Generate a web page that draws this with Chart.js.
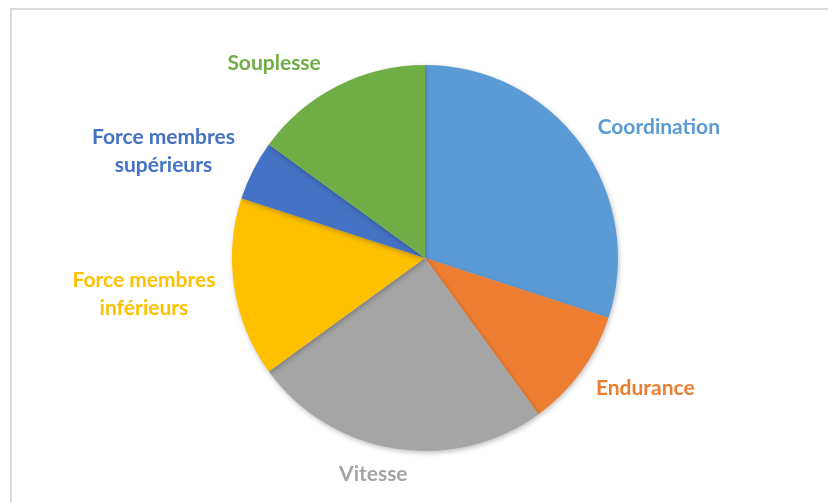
<!DOCTYPE html>
<html lang="fr">
<head>
  <meta charset="utf-8">
  <title>Répartition des qualités physiques</title>
  <script src="https://cdn.jsdelivr.net/npm/chart.js@4"></script>
  <style>
    html, body { margin: 0; padding: 0; background: #fff; }
    #holder { position: relative; width: 828px; height: 502px; }
    #frame { position: absolute; left: 10px; top: 8px; width: 830px; height: 510px;
             border: 2px solid #d9d9d9; box-sizing: border-box; pointer-events: none; }
  </style>
</head>
<body>
<div id="holder">
  <canvas id="chart" width="828" height="502"></canvas>
  <div id="frame"></div>
</div>
<script>
  var labels = ['Coordination', 'Endurance', 'Vitesse', 'Force membres inférieurs', 'Force membres supérieurs', 'Souplesse'];
  var values = [30, 10, 25, 15, 5, 15];
  var colors = ['#5b9bd5', '#ed7d31', '#a5a5a5', '#ffc000', '#4472c4', '#70ad47'];
  // label text split in lines as in the picture
  var labelLines = [['Coordination'], ['Endurance'], ['Vitesse'], ['Force membres', 'inférieurs'], ['Force membres', 'supérieurs'], ['Souplesse']];

  // draws category names outside the pie, coloured like their slice
  var outsideLabels = {
    id: 'outsideLabels',
    beforeDatasetsDraw: function (chart) {
      var ctx = chart.ctx;
      ctx.save();
      ctx.shadowColor = 'rgba(0,0,0,0.25)';
      ctx.shadowBlur = 5;
      ctx.shadowOffsetX = 1;
      ctx.shadowOffsetY = 2;
    },
    afterDatasetsDraw: function (chart, args, opts) {
      var ctx = chart.ctx;
      ctx.restore();
      var meta = chart.getDatasetMeta(0);
      ctx.save();
      ctx.font = opts.font;
      ctx.textAlign = 'center';
      ctx.textBaseline = 'middle';
      meta.data.forEach(function (arc, i) {
        var p = arc.getProps(['x', 'y', 'startAngle', 'endAngle', 'outerRadius'], true);
        var mid = (p.startAngle + p.endAngle) / 2;
        var dx = Math.cos(mid), dy = Math.sin(mid);
        var lines = labelLines[i];
        var w = Math.max.apply(null, lines.map(function (l) { return ctx.measureText(l).width; }));
        var h = lines.length * opts.lineHeight;
        var r = p.outerRadius + opts.gap;
        var nudge = opts.nudge[i] || [0, 0];
        var cx = p.x + dx * r + dx * w / 2 + nudge[0];
        var cy = p.y + dy * r + dy * h / 2 + nudge[1];
        ctx.fillStyle = colors[i];
        lines.forEach(function (l, k) {
          ctx.fillText(l, cx, cy - h / 2 + opts.lineHeight * (k + 0.5));
        });
      });
      ctx.restore();
    }
  };

  var config = {
    type: 'pie',
    data: {
      labels: labels,
      datasets: [{
        data: values,
        backgroundColor: colors,
        borderWidth: 0
      }]
    },
    options: {
      responsive: false,
      animation: false,
      layout: {
        padding: { left: 100, right: 78, top: 65, bottom: 51 }
      },
      plugins: {
        legend: { display: false },
        tooltip: { enabled: false },
        outsideLabels: {
          font: 'bold 21px Lato',
          lineHeight: 28,
          gap: 20,
          nudge: [[12, 3], [8, -3], [-13, -8], [0, -1], [-8, 3], [-33, 7]]
        }
      }
    },
    plugins: [outsideLabels]
  };

  var ctx = document.getElementById('chart').getContext('2d');
  window.myPie = new Chart(ctx, config);
</script>
</body>
</html>
